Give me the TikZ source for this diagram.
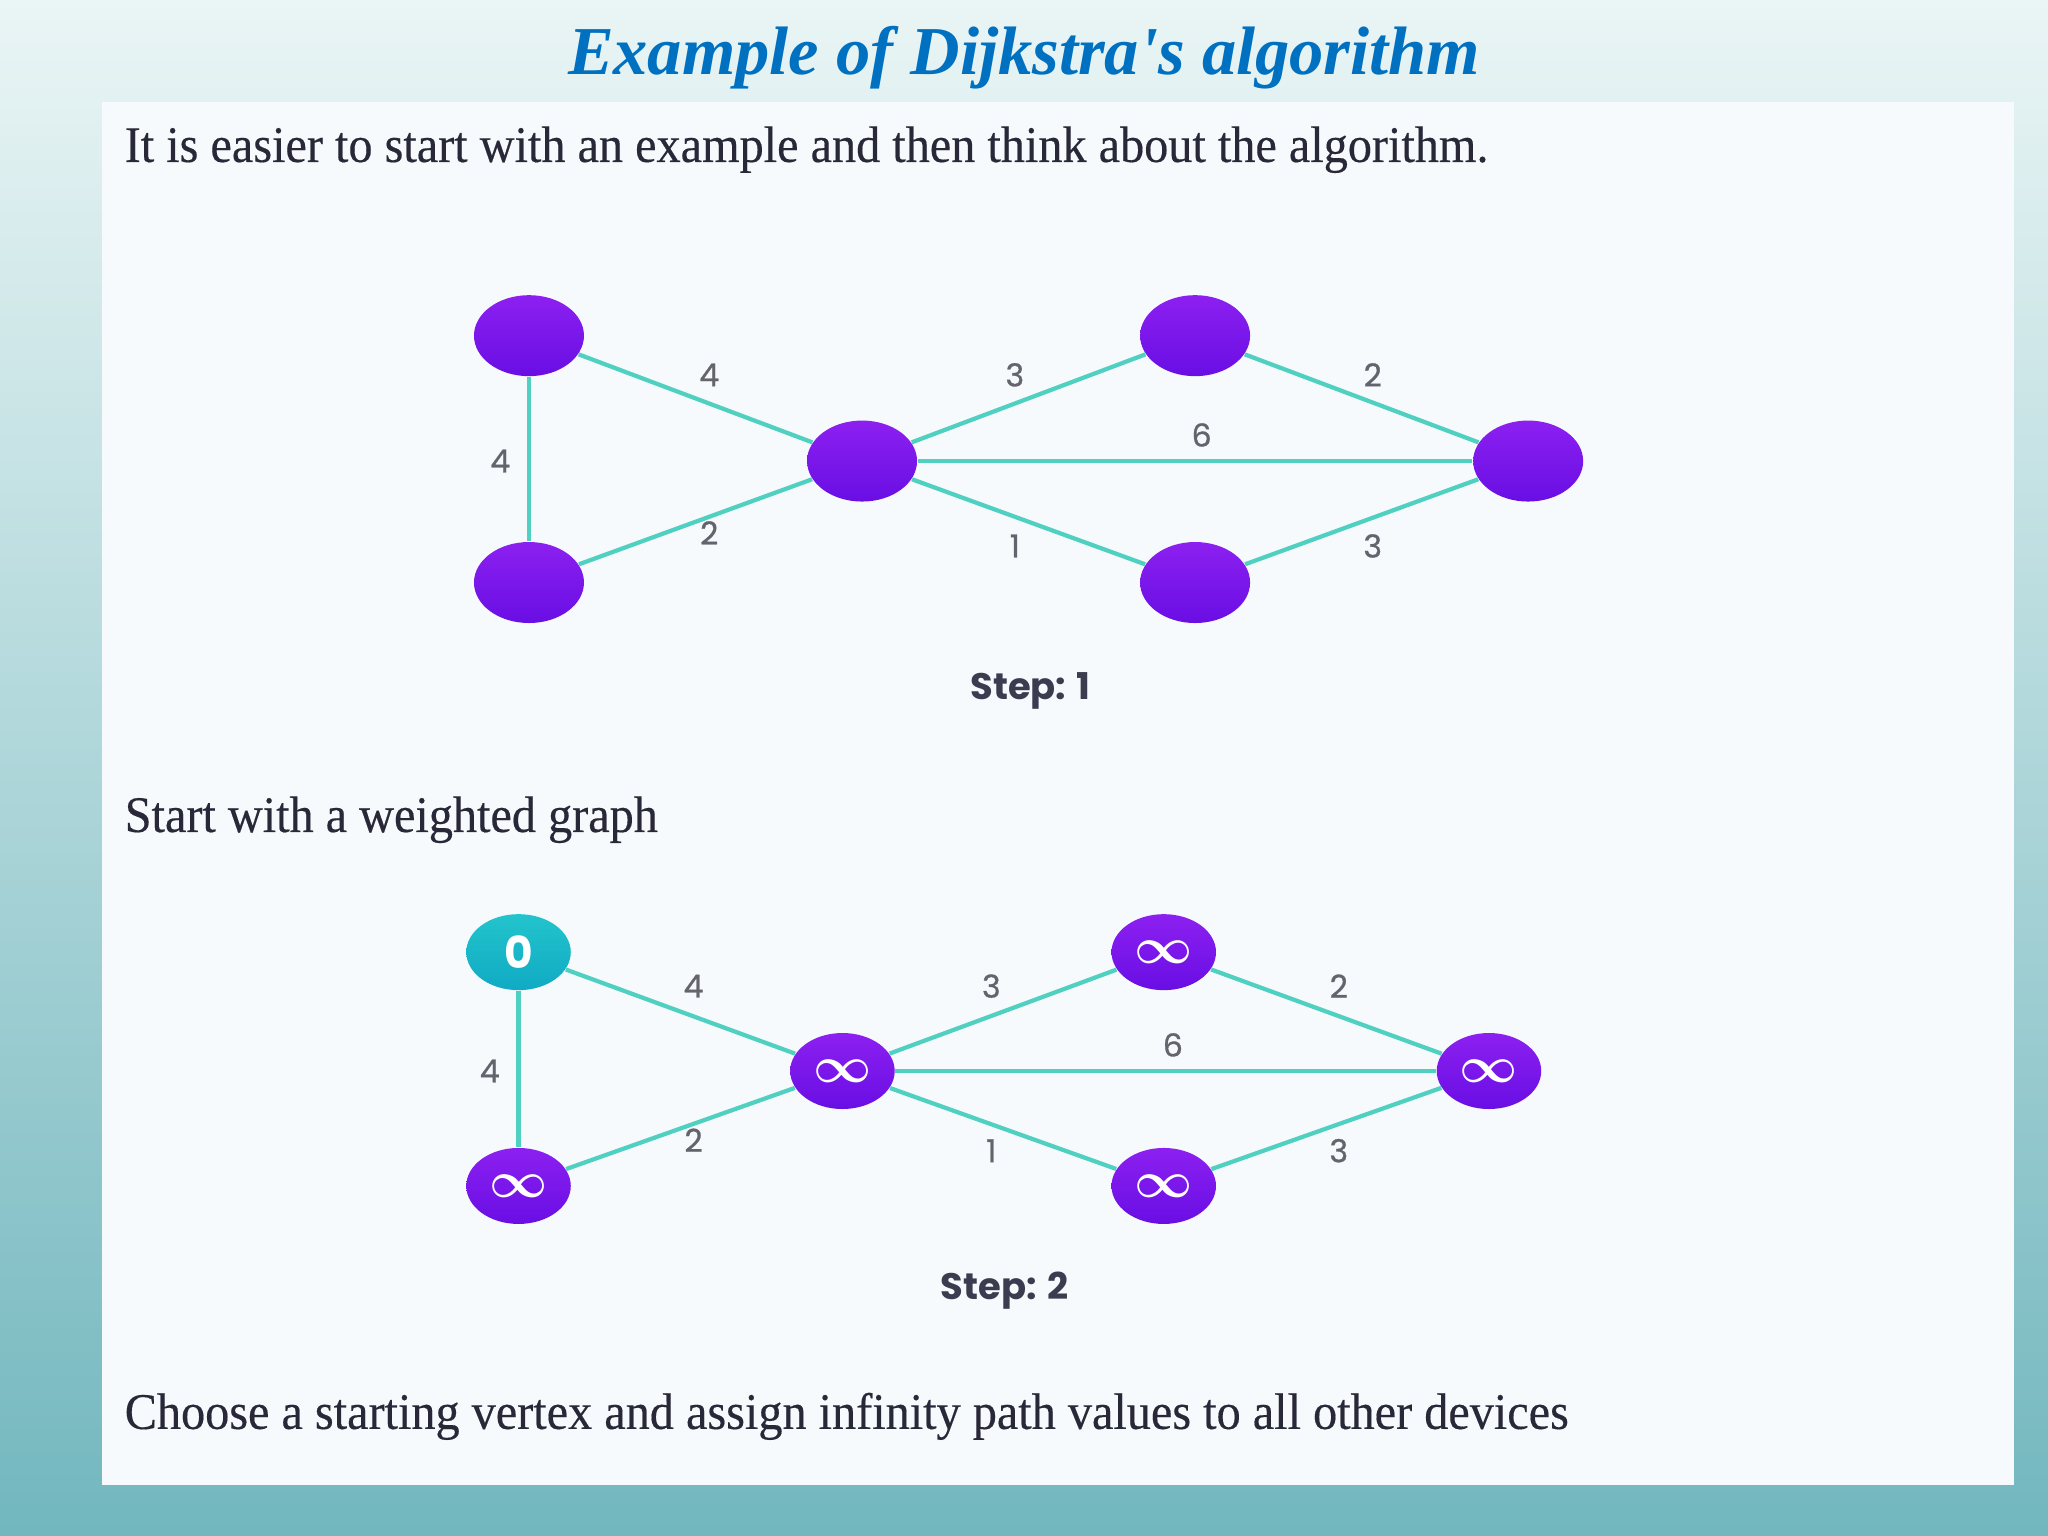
\documentclass[tikz,border=0pt]{standalone}
\usepackage{fontspec}
\usepackage{amsmath}
\usepackage{tikz}
\usetikzlibrary{shapes.geometric}
\setmainfont{Liberation Serif}
\newfontfamily\bodyfont[FakeStretch=0.94,FakeBold=0.3]{Liberation Serif}
\newfontfamily\titlefont{Liberation Serif}
\newfontfamily\graphfont{Poppins}
\newfontfamily\weightfont[FakeBold=0.8]{Poppins}
\definecolor{titleblue}{RGB}{0,112,192}
\definecolor{bgtop}{RGB}{234,245,245}
\definecolor{bgbot}{RGB}{114,183,190}
\definecolor{panelfill}{RGB}{247,250,252}
\definecolor{textdark}{RGB}{40,40,56}
\definecolor{edgeteal}{RGB}{80,208,192}
\definecolor{vtop}{RGB}{140,32,240}
\definecolor{vbot}{RGB}{105,14,228}
\definecolor{ttop}{RGB}{34,196,204}
\definecolor{tbot}{RGB}{16,170,196}
\definecolor{wgray}{RGB}{100,100,110}
\definecolor{stepgray}{RGB}{60,60,80}

\begin{document}
\begin{tikzpicture}[x=0.13061mm,y=-0.13061mm,line join=round,
  vtx/.style={ellipse,top color=vtop,bottom color=vbot,draw=none,inner sep=0pt,
    text=white,minimum width=11mm,minimum height=8.1mm},
  vtxs/.style={vtx,minimum width=10.45mm,minimum height=7.6mm,font=\boldmath\fontsize{13.5}{13.5}\selectfont},
  src/.style={vtxs,top color=ttop,bottom color=tbot,font=\graphfont\bfseries\fontsize{12.5}{12.5}\selectfont},
  link/.style={edgeteal,line width=1.2pt},
  wt/.style={text=wgray,font=\weightfont\fontsize{9}{9}\selectfont},
  steplbl/.style={text=stepgray,font=\graphfont\bfseries\fontsize{10.5}{10.5}\selectfont},
  para/.style={anchor=base west,text=textdark,inner sep=0pt,font=\bodyfont\fontsize{14.6}{16}\selectfont}]
  \useasboundingbox (0,0) rectangle (1568,1176);
  \shade[top color=bgtop,bottom color=bgbot] (0,0) rectangle (1568,1176);
  \fill[panelfill] (78,78) rectangle (1542,1137);
  \node[anchor=base,inner sep=0pt,text=titleblue,font=\titlefont\bfseries\itshape\fontsize{19.5}{21}\selectfont]
    (title) at (784,57) {Example of Dijkstra's algorithm};
  \node[para] (intro) at (95,124) {It is easier to start with an example and then think about the algorithm.};
  \node[para] (stepa) at (95,637) {Start with a weighted graph};
  \node[para] (stepb) at (95,1094) {Choose a starting vertex and assign infinity path values to all other devices};

  \node[vtx] (a1) at (405,257) {};
  \node[vtx] (b1) at (405,446) {};
  \node[vtx] (c1) at (660,353) {};
  \node[vtx] (d1) at (915,257) {};
  \node[vtx] (e1) at (915,446) {};
  \node[vtx] (f1) at (1170,353) {};
  \draw[link] (a1) -- (b1);
  \draw[link] (a1) -- (c1);
  \draw[link] (b1) -- (c1);
  \draw[link] (c1) -- (d1);
  \draw[link] (c1) -- (f1);
  \draw[link] (c1) -- (e1);
  \draw[link] (d1) -- (f1);
  \draw[link] (e1) -- (f1);
  \node[wt] (w1ab) at (383,353) {4};
  \node[wt] (w1ac) at (543,287) {4};
  \node[wt] (w1bc) at (543,408) {2};
  \node[wt] (w1cd) at (777,287) {3};
  \node[wt] (w1cf) at (920,333) {6};
  \node[wt] (w1ce) at (777,418) {1};
  \node[wt] (w1df) at (1051,287) {2};
  \node[wt] (w1ef) at (1051,418) {3};
  \node[steplbl] (step1) at (789,529) {Step: 1};

  \node[src] (a2) at (397,729) {0};
  \node[vtxs] (b2) at (397,908) {$\infty$};
  \node[vtxs] (c2) at (645,820) {$\infty$};
  \node[vtxs] (d2) at (891,729) {$\infty$};
  \node[vtxs] (e2) at (891,908) {$\infty$};
  \node[vtxs] (f2) at (1140,820) {$\infty$};
  \draw[link] (a2) -- (b2);
  \draw[link] (a2) -- (c2);
  \draw[link] (b2) -- (c2);
  \draw[link] (c2) -- (d2);
  \draw[link] (c2) -- (f2);
  \draw[link] (c2) -- (e2);
  \draw[link] (d2) -- (f2);
  \draw[link] (e2) -- (f2);
  \node[wt] (w2ab) at (375,820) {4};
  \node[wt] (w2ac) at (531,755) {4};
  \node[wt] (w2bc) at (531,873) {2};
  \node[wt] (w2cd) at (759,755) {3};
  \node[wt] (w2cf) at (898,800) {6};
  \node[wt] (w2ce) at (759,881) {1};
  \node[wt] (w2df) at (1025,755) {2};
  \node[wt] (w2ef) at (1025,881) {3};
  \node[steplbl] (step2) at (769,988) {Step: 2};
\end{tikzpicture}
\end{document}
